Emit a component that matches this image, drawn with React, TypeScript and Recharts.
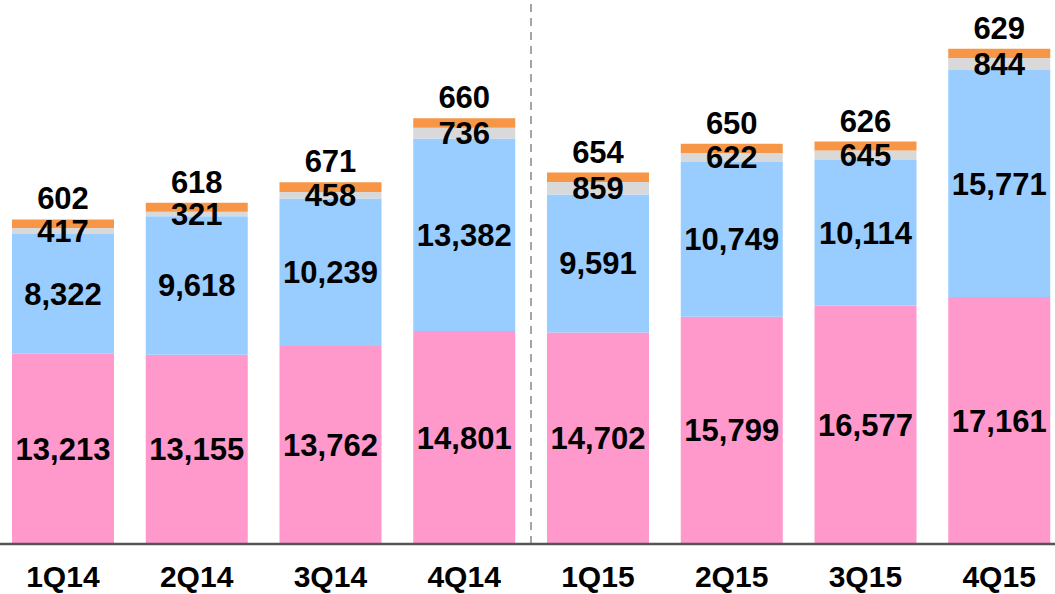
import React from 'react';
import { BarChart, Bar, XAxis, YAxis, LabelList, ReferenceLine } from 'recharts';

const quarters = ['1Q14', '2Q14', '3Q14', '4Q14', '1Q15', '2Q15', '3Q15', '4Q15'];
const pinkValues = [13213, 13155, 13762, 14801, 14702, 15799, 16577, 17161];
const blueValues = [8322, 9618, 10239, 13382, 9591, 10749, 10114, 15771];
const grayValues = [417, 321, 458, 736, 859, 622, 645, 844];
const orangeValues = [602, 618, 671, 660, 654, 650, 626, 629];

const data = quarters.map((q, i) => ({
  q,
  pink: pinkValues[i],
  blue: blueValues[i],
  gray: grayValues[i],
  orange: orangeValues[i],
}));

const FONT = '"Liberation Sans", Arial, sans-serif';
const fmt = (v: any) => Number(v).toLocaleString('en-US');
const labelStyle = { fontFamily: FONT, fontWeight: 700, fontSize: 31, fill: '#000' };

export default function App() {
  return (
    <div style={{ position: 'fixed', left: 0, top: 0, width: 1055, height: 594, overflow: 'hidden', background: '#fff' }}>
      <div style={{ marginLeft: -4 }}>
        <BarChart width={1070} height={594} data={data} margin={{ top: 0, right: 0, left: 0, bottom: 0 }}>
          <XAxis
            dataKey="q"
            height={50}
            tickLine={false}
            tickMargin={16}
            axisLine={{ stroke: '#555', strokeWidth: 2.5 }}
            tick={{ fontFamily: FONT, fontWeight: 700, fontSize: 30, fill: '#000' }}
            interval={0}
          />
          <YAxis hide domain={[0, 37800]} />
          <ReferenceLine x="4Q14" position="end" stroke="#888" strokeWidth={1.5} strokeDasharray="8 6" />
          <Bar dataKey="pink" stackId="a" fill="#FF99CC" barSize={102} isAnimationActive={false}>
            <LabelList dataKey="pink" position="center" formatter={fmt} style={labelStyle} />
          </Bar>
          <Bar dataKey="blue" stackId="a" fill="#99CCFF" barSize={102} isAnimationActive={false}>
            <LabelList dataKey="blue" position="center" formatter={fmt} style={labelStyle} />
          </Bar>
          <Bar dataKey="gray" stackId="a" fill="#D9D9D9" barSize={102} isAnimationActive={false}>
            <LabelList dataKey="gray" position="center" formatter={fmt} style={labelStyle} />
          </Bar>
          <Bar dataKey="orange" stackId="a" fill="#F79646" barSize={102} isAnimationActive={false}>
            <LabelList dataKey="orange" position="top" offset={10} formatter={fmt} style={labelStyle} />
          </Bar>
        </BarChart>
      </div>
    </div>
  );
}
